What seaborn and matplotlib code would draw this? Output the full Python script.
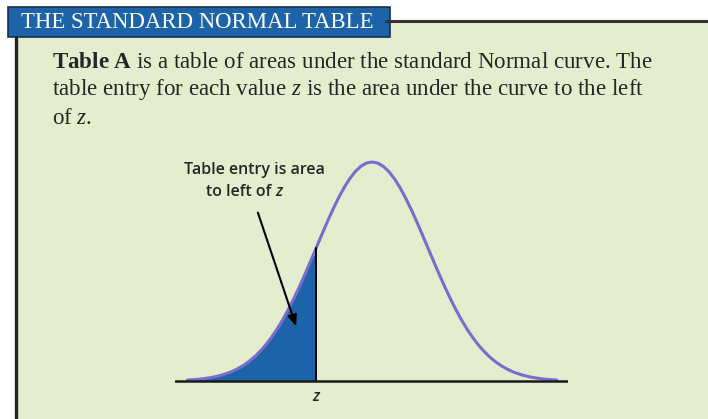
import matplotlib
matplotlib.use("Agg")
import matplotlib.pyplot as plt
import seaborn as sns
from matplotlib.patches import Rectangle

# standard Normal curve (z, height)
z_vals = [-3.3, -3.2, -3.1, -3.0, -2.9, -2.8, -2.7, -2.6, -2.5, -2.4, -2.3, -2.2,
          -2.1, -2.0, -1.9, -1.8, -1.7, -1.6, -1.5, -1.4, -1.3, -1.2, -1.1, -1.0,
          -0.9, -0.8, -0.7, -0.6, -0.5, -0.4, -0.3, -0.2, -0.1, 0.0,
          0.1, 0.2, 0.3, 0.4, 0.5, 0.6, 0.7, 0.8, 0.9, 1.0, 1.1, 1.2,
          1.3, 1.4, 1.5, 1.6, 1.7, 1.8, 1.9, 2.0, 2.1, 2.2, 2.3, 2.4,
          2.5, 2.6, 2.7, 2.8, 2.9, 3.0, 3.1, 3.2, 3.3]
density = [0.0017, 0.0024, 0.0033, 0.0044, 0.0060, 0.0079, 0.0104, 0.0136, 0.0175, 0.0224, 0.0283, 0.0355,
           0.0440, 0.0540, 0.0656, 0.0790, 0.0940, 0.1109, 0.1295, 0.1497, 0.1714, 0.1942, 0.2179, 0.2420,
           0.2661, 0.2897, 0.3123, 0.3332, 0.3521, 0.3683, 0.3814, 0.3910, 0.3970, 0.3989,
           0.3970, 0.3910, 0.3814, 0.3683, 0.3521, 0.3332, 0.3123, 0.2897, 0.2661, 0.2420, 0.2179, 0.1942,
           0.1714, 0.1497, 0.1295, 0.1109, 0.0940, 0.0790, 0.0656, 0.0540, 0.0440, 0.0355, 0.0283, 0.0224,
           0.0175, 0.0136, 0.0104, 0.0079, 0.0060, 0.0044, 0.0033, 0.0024, 0.0017]
z_cut = -1.0

title = "THE STANDARD NORMAL TABLE"
para = [r"$\mathbf{Table\ A}$ is a table of areas under the standard Normal curve. The",
        r"table entry for each value $z$ is the area under the curve to the left",
        r"of $z$."]

sns.set_theme(style="white")
plt.rcParams["mathtext.fontset"] = "custom"
plt.rcParams["mathtext.rm"] = "Liberation Serif"
plt.rcParams["mathtext.it"] = "Liberation Serif:italic"
plt.rcParams["mathtext.bf"] = "Liberation Serif:bold"

green = "#e4eecf"
blue = "#1c63a8"
purple = "#7a6ccc"
ink = "#262626"

fig = plt.figure(figsize=(7.08, 4.19), dpi=100)
fig.patch.set_facecolor("white")

# background in pixel coords
bg = fig.add_axes([0, 0, 1, 1], zorder=0)
bg.set_xlim(0, 708)
bg.set_ylim(419, 0)
bg.axis("off")
bg.add_patch(Rectangle((16, 21), 700, 400, facecolor=green, edgecolor="none"))
bg.plot([385, 708], [21, 21], color="#333333", lw=2.2, solid_capstyle="butt")
bg.plot([16, 16], [36, 419], color="#222222", lw=2.4, solid_capstyle="butt")
bg.add_patch(Rectangle((8, 7), 382, 30, facecolor=blue, edgecolor="#1a2f4a", lw=1.2))
bg.text(21, 23, title, color="white", fontsize=16.4, family="Liberation Serif",
        va="center", ha="left")
for i, line in enumerate(para):
    bg.text(52, 62 + 28 * i, line, color=ink, fontsize=16.6,
            family="Liberation Serif", va="center", ha="left")

# the curve
ax = fig.add_axes([175 / 708, 27 / 419, 393 / 708, 241.6 / 419], zorder=1)
ax.patch.set_alpha(0)
sns.lineplot(x=z_vals, y=density, color=purple, lw=2.2, sort=False,
             estimator=None, ax=ax, zorder=3)
left_z = [z for z in z_vals if z <= z_cut]
left_d = density[:len(left_z)]
ax.fill_between(left_z, 0, left_d, color=blue, lw=0, zorder=2)
ax.plot([z_cut, z_cut], [0, left_d[-1]], color="black", lw=1.4, zorder=4)
ax.axhline(0, color="#1a1a1a", lw=1.8, zorder=5)
ax.set_xlim(-3.52, 3.5)
ax.set_ylim(-0.02, 0.42)
ax.axis("off")

# annotation on top
top = fig.add_axes([0, 0, 1, 1], zorder=2)
top.set_xlim(0, 708)
top.set_ylim(419, 0)
top.axis("off")
lab = dict(fontsize=11.5, family="Open Sans", weight="semibold", color=ink)
top.text(254, 170, "Table entry is area", ha="center", va="center", **lab)
t = top.text(206, 192, "to left of ", ha="left", va="center", **lab)
top.annotate("z", xy=(1, 0), xycoords=t, va="bottom", ha="left", style="italic", **lab)
top.text(316, 397, "z", style="italic", ha="center", va="center", **lab)
top.annotate("", xy=(297, 329), xytext=(257, 210),
             arrowprops=dict(arrowstyle="-|>,head_length=0.55,head_width=0.22",
                             color="black", lw=1.5))

fig.savefig("out.png", dpi=100)
